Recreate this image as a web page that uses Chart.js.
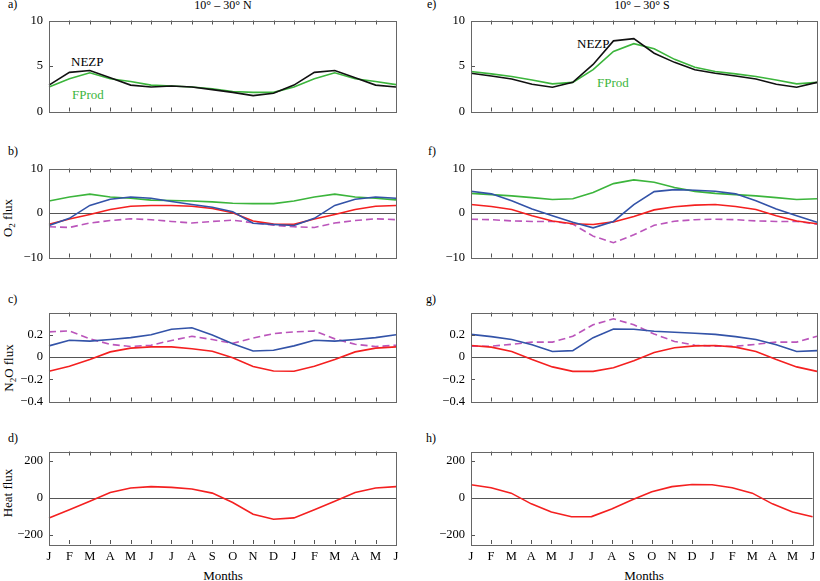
<!DOCTYPE html>
<html>
<head>
<meta charset="utf-8">
<script src="https://cdn.jsdelivr.net/npm/chart.js@4.4.0/dist/chart.umd.min.js"></script>
<style>
body { margin:0; background:#fff; width:820px; height:581px; position:relative; overflow:hidden;
       font-family:"Liberation Serif","DejaVu Serif",serif; color:#000; }
canvas { position:absolute; }
.t { position:absolute; font-size:12px; line-height:1; white-space:nowrap; }
.c { transform:translateX(-50%); }
.big { font-size:13px; }
.rot { position:absolute; font-size:13px; line-height:1; white-space:nowrap; transform:translate(-50%,-50%) rotate(-90deg); }
.rot sub { font-size:9px; vertical-align:-3px; line-height:0; }
</style>
</head>
<body>

<div class="t" style="left:8px;top:-2px">a)</div>
<div class="t c" style="left:223px;top:-1px">10° – 30° N</div>
<div class="t" style="left:427px;top:-2px">e)</div>
<div class="t c" style="left:642px;top:-1px">10° – 30° S</div>
<div class="t" style="left:8px;top:145px">b)</div>
<div class="t" style="left:428px;top:145px">f)</div>
<div class="t" style="left:8px;top:293px">c)</div>
<div class="t" style="left:426px;top:293px">g)</div>
<div class="t" style="left:8px;top:432px">d)</div>
<div class="t" style="left:426px;top:432px">h)</div>

<div class="t big" style="left:71px;top:55px">NEZP</div>
<div class="t big" style="left:72px;top:88px;color:#3cb53c">FProd</div>
<div class="t big" style="left:577px;top:37px">NEZP</div>
<div class="t big" style="left:597px;top:76px;color:#3cb53c">FProd</div>

<div class="rot" style="left:7px;top:218px">O<sub>2</sub> flux</div>
<div class="rot" style="left:8px;top:368px">N<sub>2</sub>O flux</div>
<div class="rot" style="left:7px;top:493px">Heat flux</div>

<div class="t big c" style="left:223px;top:569px">Months</div>
<div class="t big c" style="left:644px;top:569px">Months</div>

<script>
// months, Jan of one year to Jun of the next
const months = ['J','F','M','A','M','J','J','A','S','O','N','D','J','F','M','A','M','J'];

// 10-30 N
const nezpN     = [2.9, 4.3, 4.5, 3.7, 2.9, 2.7, 2.8, 2.7, 2.4, 2.1, 1.75, 2.0, 2.9, 4.3, 4.5, 3.7, 2.9, 2.7];
const fprodN    = [2.7, 3.6, 4.25, 3.6, 3.3, 2.9, 2.8, 2.7, 2.5, 2.2, 2.1, 2.1, 2.7, 3.6, 4.25, 3.6, 3.3, 2.95];
const o2TotalN  = [-2.8, -1.2, 1.7, 3.1, 3.6, 3.3, 2.6, 1.9, 1.3, 0.3, -2.3, -2.6, -2.8, -1.2, 1.7, 3.1, 3.6, 3.3];
const o2ThermN  = [-2.55, -1.35, -0.35, 0.8, 1.5, 1.7, 1.7, 1.5, 1.0, 0.05, -1.8, -2.5, -2.55, -1.35, -0.35, 0.8, 1.5, 1.7];
const o2BioN    = [-3.1, -3.25, -2.25, -1.7, -1.3, -1.5, -1.9, -2.25, -1.9, -1.6, -2.2, -2.75, -3.1, -3.25, -2.25, -1.7, -1.3, -1.5];
const n2oTotalN = [0.10, 0.15, 0.143, 0.157, 0.174, 0.20, 0.25, 0.263, 0.197, 0.12, 0.054, 0.06, 0.10, 0.15, 0.143, 0.157, 0.174, 0.20];
const n2oThermN = [-0.128, -0.083, -0.023, 0.046, 0.08, 0.091, 0.091, 0.074, 0.051, -0.006, -0.086, -0.126, -0.128, -0.083, -0.023, 0.046, 0.08, 0.091];
const n2oBioN   = [0.226, 0.234, 0.163, 0.114, 0.094, 0.106, 0.149, 0.186, 0.157, 0.123, 0.171, 0.21, 0.226, 0.234, 0.163, 0.114, 0.094, 0.106];
const heatN     = [-110, -65, -19, 28, 53, 60, 56, 47, 25, -26, -89, -116, -109, -65, -19, 28, 53, 60];

// 10-30 S
const nezpS     = [4.2, 3.9, 3.57, 3.0, 2.66, 3.2, 5.17, 7.76, 8.0, 6.4, 5.4, 4.58, 4.2, 3.9, 3.57, 3.0, 2.66, 3.2];
const fprodS    = [4.4, 4.13, 3.85, 3.46, 3.04, 3.2, 4.6, 6.6, 7.45, 6.9, 5.73, 4.86, 4.4, 4.13, 3.85, 3.46, 3.04, 3.2];
const o2TotalS  = [4.9, 4.3, 2.77, 0.92, -0.64, -2.1, -3.33, -1.9, 1.9, 4.8, 5.25, 5.1, 4.9, 4.3, 2.77, 0.92, -0.64, -2.1];
const o2ThermS  = [1.9, 1.45, 0.78, -0.63, -1.8, -2.4, -2.6, -2.0, -0.78, 0.7, 1.42, 1.77, 1.9, 1.45, 0.78, -0.63, -1.8, -2.4];
const o2BioS    = [-1.4, -1.5, -1.77, -1.9, -1.9, -2.5, -5.2, -6.67, -4.9, -2.77, -1.84, -1.5, -1.4, -1.5, -1.77, -1.9, -1.9, -2.5];
const n2oTotalS = [0.203, 0.183, 0.157, 0.111, 0.049, 0.057, 0.174, 0.251, 0.249, 0.231, 0.223, 0.214, 0.203, 0.183, 0.157, 0.111, 0.049, 0.057];
const n2oThermS = [0.103, 0.089, 0.049, -0.023, -0.089, -0.129, -0.129, -0.097, -0.034, 0.04, 0.083, 0.1, 0.103, 0.089, 0.049, -0.023, -0.089, -0.129];
const n2oBioS   = [0.097, 0.097, 0.114, 0.134, 0.134, 0.186, 0.29, 0.343, 0.29, 0.206, 0.14, 0.106, 0.097, 0.097, 0.114, 0.134, 0.134, 0.186];
const heatS     = [70, 54, 25, -33, -77, -103, -102, -61, -12, 33, 60, 72, 70, 54, 25, -33, -77, -103];

// y tick labels per row
const ticksProd = [0, 5, 10];
const ticksO2   = [-10, 0, 10];
const ticksN2O  = [-0.4, -0.2, 0, 0.2];
const ticksHeat = [-200, 0, 200];

const GREEN = '#3cb53c', BLUE = '#3353a8', RED = '#f42020', MAG = '#bb55bb', BLACK = '#111';
const FONT = { family: '"Liberation Serif","DejaVu Serif",serif', size: 12.5 };

// plot area rows (top, bottom) and columns
const rows = [[19, 115], [167, 261], [311, 405], [450, 544]];
const cols = [{ left: 0, width: 410, yW: 49, padR: 14 }, { left: 410, width: 410, yW: 61, padR: 3 }];

function line(data, color, dashed) {
    return { data: data, borderColor: color, borderWidth: 1.6, borderDash: dashed ? [7, 4] : [], fill: false };
}

function fmt(v) {
    if (v === 0) return '0';
    return (v < 0 ? '\u2212' : '') + Math.abs(v);
}

// frame box, zero line and inward ticks
const framePlugin = {
    id: 'frame',
    beforeDatasetsDraw(chart, args, opts) {
        if (!opts.zero) return;
        const { ctx, chartArea: a, scales: { y } } = chart;
        const py = Math.round(y.getPixelForValue(0)) + 0.5;
        ctx.save();
        ctx.strokeStyle = '#555';
        ctx.lineWidth = 1;
        ctx.beginPath();
        ctx.moveTo(a.left, py);
        ctx.lineTo(a.right, py);
        ctx.stroke();
        ctx.restore();
    },
    afterDatasetsDraw(chart, args, opts) {
        const { ctx, chartArea: a, scales: { x, y } } = chart;
        ctx.save();
        ctx.strokeStyle = '#555';
        ctx.lineWidth = 1;
        ctx.beginPath();
        for (let i = 1; i < months.length - 1; i++) {
            const px = Math.round(x.getPixelForValue(i)) + 0.5;
            ctx.moveTo(px, a.bottom);
            ctx.lineTo(px, a.bottom - 4);
            ctx.moveTo(px, a.top);
            ctx.lineTo(px, a.top + 4);
        }
        opts.ticks.forEach(v => {
            const py = Math.round(y.getPixelForValue(v)) + 0.5;
            ctx.moveTo(a.left, py);
            ctx.lineTo(a.left + 4, py);
        });
        ctx.stroke();
        ctx.strokeStyle = '#666';
        ctx.strokeRect(Math.round(a.left) + 0.5, Math.round(a.top) + 0.5,
            Math.round(a.right - a.left), Math.round(a.bottom - a.top));
        ctx.restore();
    }
};

function panel(col, row, datasets, yMin, yMax, yTicks, zero) {
    const c = cols[col];
    const [top, bottom] = rows[row];
    const showX = row === 3;
    const xH = showX ? 20 : 0;
    const padB = showX ? 4 : 10;
    const canvas = document.createElement('canvas');
    canvas.width = c.width;
    canvas.height = 12 + (bottom - top) + xH + padB;
    canvas.style.left = c.left + 'px';
    canvas.style.top = (top - 12) + 'px';
    canvas.style.width = canvas.width + 'px';
    canvas.style.height = canvas.height + 'px';
    document.body.appendChild(canvas);

    new Chart(canvas, {
        type: 'line',
        data: { labels: months, datasets: datasets },
        options: {
            responsive: false,
            animation: false,
            layout: { padding: { top: 12, right: c.padR, bottom: padB, left: 0 } },
            elements: { point: { radius: 0 }, line: { tension: 0 } },
            plugins: {
                legend: { display: false },
                tooltip: { enabled: false },
                frame: { zero: zero, ticks: yTicks }
            },
            scales: {
                x: {
                    type: 'category',
                    offset: false,
                    grid: { display: false, drawTicks: false },
                    border: { display: false },
                    ticks: { display: showX, autoSkip: false, maxRotation: 0, padding: 5, color: '#000', font: FONT },
                    afterFit: s => { s.height = xH; }
                },
                y: {
                    min: yMin,
                    max: yMax,
                    grid: { display: false, drawTicks: false },
                    border: { display: false },
                    afterBuildTicks: s => { s.ticks = yTicks.map(v => ({ value: v })); },
                    ticks: { padding: 6, color: '#000', font: FONT, callback: v => fmt(v) },
                    afterFit: s => { s.width = c.yW; }
                }
            }
        },
        plugins: [framePlugin]
    });
}

// left column: 10-30 N
panel(0, 0, [line(nezpN, BLACK), line(fprodN, GREEN)], 0, 10, ticksProd, false);
panel(0, 1, [line(o2TotalN, BLUE), line(o2ThermN, RED), line(o2BioN, MAG, true), line(fprodN, GREEN)], -10, 10, ticksO2, true);
panel(0, 2, [line(n2oTotalN, BLUE), line(n2oThermN, RED), line(n2oBioN, MAG, true)], -0.4, 0.4, ticksN2O, true);
panel(0, 3, [line(heatN, RED)], -250, 250, ticksHeat, true);

// right column: 10-30 S
panel(1, 0, [line(nezpS, BLACK), line(fprodS, GREEN)], 0, 10, ticksProd, false);
panel(1, 1, [line(o2TotalS, BLUE), line(o2ThermS, RED), line(o2BioS, MAG, true), line(fprodS, GREEN)], -10, 10, ticksO2, true);
panel(1, 2, [line(n2oTotalS, BLUE), line(n2oThermS, RED), line(n2oBioS, MAG, true)], -0.4, 0.4, ticksN2O, true);
panel(1, 3, [line(heatS, RED)], -250, 250, ticksHeat, true);
</script>
</body>
</html>
